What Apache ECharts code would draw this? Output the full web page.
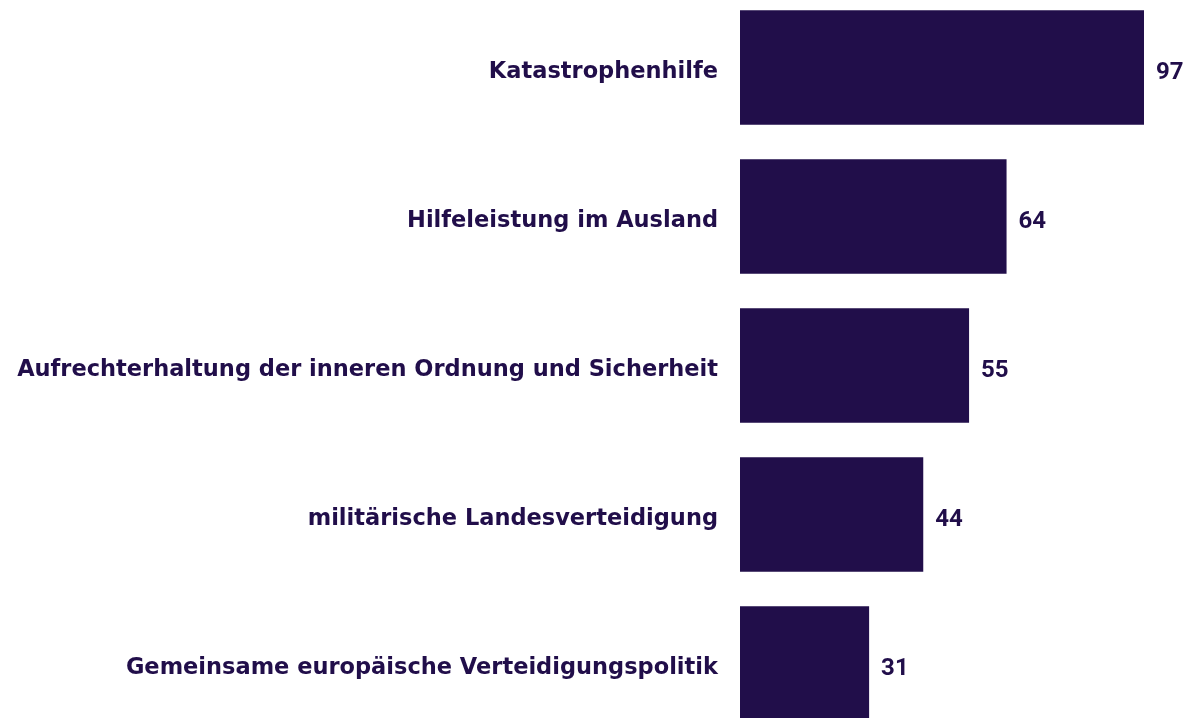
<!DOCTYPE html>
<html>
<head>
<meta charset="utf-8">
<script src="https://cdn.jsdelivr.net/npm/echarts@6/dist/echarts.min.js"></script>
<style>
  html, body { margin: 0; padding: 0; background: #fff; }
  #chart { width: 1187px; height: 718px; }
</style>
</head>
<body>
<div id="chart"></div>
<script>
// Kategorien von oben nach unten
const categories = [
  'Katastrophenhilfe',
  'Hilfeleistung im Ausland',
  'Aufrechterhaltung der inneren Ordnung und Sicherheit',
  'militärische Landesverteidigung',
  'Gemeinsame europäische Verteidigungspolitik'
]
const values = [97, 64, 55, 44, 31]

const barColor = '#210e4a'
const chart = echarts.init(document.getElementById('chart'))

chart.setOption({
  animation: false,
  grid: {
    left: 740,
    width: 404,
    top: -7,
    height: 745,
    outerBoundsMode: 'none'
  },
  xAxis: {
    type: 'value',
    min: 0,
    max: 97,
    show: false
  },
  yAxis: {
    type: 'category',
    inverse: true,
    data: categories,
    axisLine: { show: false },
    axisTick: { show: false },
    axisLabel: {
      margin: 22,
      // rich text, damit der Text etwas nach unten rückt
      formatter: (v) => '{a|' + v + '}',
      rich: {
        a: {
          color: barColor,
          fontFamily: 'DejaVu Sans',
          fontWeight: 'bold',
          fontSize: 22.5,
          padding: [9, 0, 0, 0]
        }
      }
    }
  },
  series: [
    {
      type: 'bar',
      data: values,
      barCategoryGap: '23%',
      itemStyle: { color: barColor },
      label: {
        show: true,
        position: 'right',
        distance: 12,
        offset: [0, 5],
        color: barColor,
        fontFamily: 'Roboto',
        fontWeight: 'bold',
        fontSize: 24
      }
    }
  ]
})
</script>
</body>
</html>
